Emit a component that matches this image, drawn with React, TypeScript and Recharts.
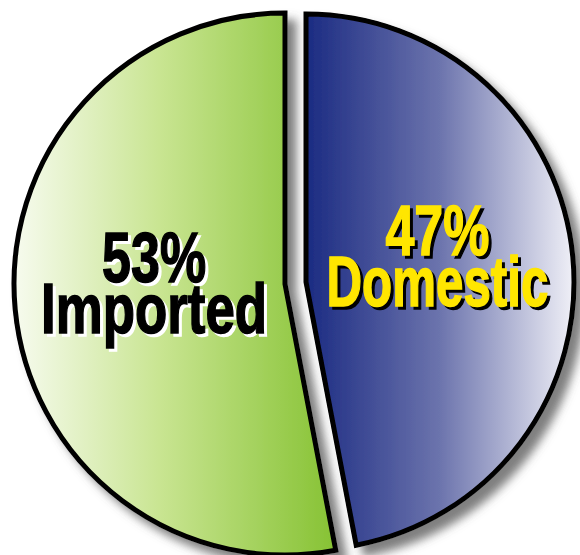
import React from 'react';
import { PieChart, Pie, Cell } from 'recharts';

const categories = ['Imported', 'Domestic'];
const shares = [53, 47];

const data = categories.map((name, i) => ({ name, value: shares[i] }));

const FONT = '"Liberation Sans", Arial, sans-serif';

// label widths in px so the bold face looks condensed like the original
const labelWidths: Record<string, [number, number]> = {
  Imported: [104, 226],
  Domestic: [104, 222],
};

const makeLabel = (show: number, color: string, shadow: string, dx: number, dy: number) => (props: any) => {
  const { cx, cy, midAngle, outerRadius, index, name, value } = props;
  if (index !== show) return null;
  const rad = (Math.PI / 180) * midAngle;
  const x = cx + Math.cos(rad) * outerRadius * 0.5 + dx;
  const y = cy - Math.sin(rad) * outerRadius * 0.5 + dy;
  const [w1, w2] = labelWidths[name];
  const lines = [
    { text: `${value}%`, y: y - 12, w: w1 },
    { text: name, y: y + 39, w: w2 },
  ];
  const common = {
    textAnchor: 'middle' as const,
    fontFamily: FONT,
    fontWeight: 'bold',
    fontSize: 70,
    lengthAdjust: 'spacingAndGlyphs' as const,
    strokeWidth: 1.5,
  };
  return (
    <g>
      {lines.map((l) => (
        <g key={l.text}>
          <text {...common} x={x + 3} y={l.y + 3} fill={shadow} stroke={shadow} textLength={l.w}>{l.text}</text>
          <text {...common} x={x} y={l.y} fill={color} stroke={color} textLength={l.w}>{l.text}</text>
        </g>
      ))}
    </g>
  );
};

export default function App() {
  return (
    <div style={{ width: 580, height: 555, background: '#fff' }}>
      <style>{`body{margin:0}`}</style>
      <PieChart width={580} height={555} margin={{ top: 0, right: 0, bottom: 0, left: 0 }}>
        <defs>
          <linearGradient id="gGreen" x1="0" y1="0" x2="1" y2="0">
            <stop offset="0%" stopColor="#f7fbef" />
            <stop offset="45%" stopColor="#c9e592" />
            <stop offset="100%" stopColor="#86c233" />
          </linearGradient>
          <linearGradient id="gBlue" x1="0" y1="0" x2="1" y2="0">
            <stop offset="0%" stopColor="#1b2b82" />
            <stop offset="50%" stopColor="#6c74ad" />
            <stop offset="100%" stopColor="#f0f0f7" />
          </linearGradient>
          <filter id="shadow" x="-10%" y="-10%" width="130%" height="130%">
            <feDropShadow dx="9" dy="9" stdDeviation="5" floodColor="#555" floodOpacity="0.75" />
          </filter>
        </defs>
        <Pie
          data={data}
          dataKey="value"
          nameKey="name"
          cx={285}
          cy={284}
          outerRadius={271}
          startAngle={90}
          endAngle={450}
          isAnimationActive={false}
          labelLine={false}
          label={makeLabel(0, '#000', '#fff', 4, -3)}
        >
          <Cell fill="url(#gGreen)" stroke="#000" strokeWidth={5} filter="url(#shadow)" />
          <Cell fill="none" stroke="none" />
        </Pie>
        <Pie
          data={data}
          dataKey="value"
          nameKey="name"
          cx={306}
          cy={282}
          outerRadius={268}
          startAngle={90}
          endAngle={450}
          isAnimationActive={false}
          labelLine={false}
          label={makeLabel(1, '#ffe600', '#000', -2, -2)}
        >
          <Cell fill="none" stroke="none" />
          <Cell fill="url(#gBlue)" stroke="#000" strokeWidth={5} filter="url(#shadow)" />
        </Pie>
      </PieChart>
    </div>
  );
}
